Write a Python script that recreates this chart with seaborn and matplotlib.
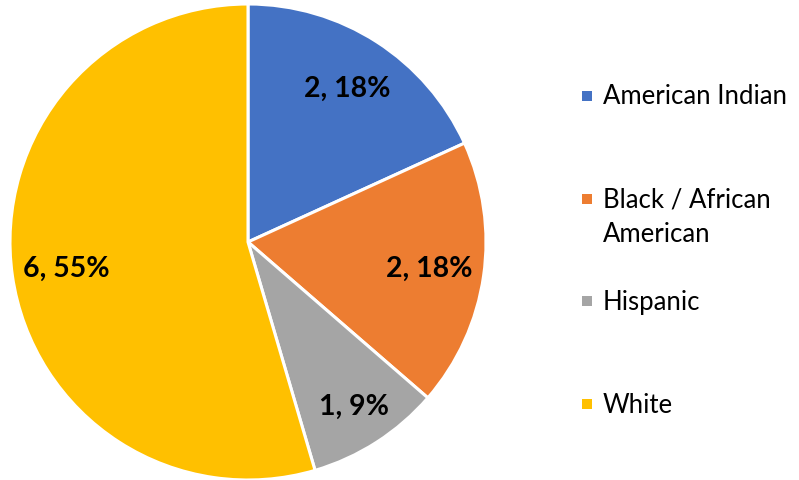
import matplotlib
matplotlib.use("Agg")
import matplotlib.pyplot as plt
from matplotlib.patches import Rectangle
import numpy as np
import seaborn as sns

# Data
categories = ["American Indian", "Black / African\nAmerican", "Hispanic", "White"]
counts = [2, 2, 1, 6]
colors = ["#4472C4", "#ED7D31", "#A5A5A5", "#FFC000"]

sns.set_theme(style="white")
plt.rcParams["font.family"] = ["Lato", "DejaVu Sans"]

W, H = 799, 481
fig = plt.figure(figsize=(W / 100, H / 100), dpi=100)
fig.patch.set_facecolor("white")

# Pie axes: centre at (248, 243) px from top-left, radius 238 px
cx, cy, r = 248, 243, 238
ax = fig.add_axes([(cx - r) / W, (H - cy - r) / H, 2 * r / W, 2 * r / H])

total = sum(counts)


def fmt(pct):
    n = int(round(pct * total / 100.0))
    return f"{n}, {pct:.0f}%"


wedges, texts, autotexts = ax.pie(
    counts,
    colors=colors,
    startangle=90,
    counterclock=False,
    autopct=fmt,
    pctdistance=0.77,
    wedgeprops=dict(edgecolor="white", linewidth=2.2),
    textprops=dict(fontsize=20.5, fontweight="bold", color="black"),
    radius=1.0,
)
ax.set_xlim(-1, 1)
ax.set_ylim(-1, 1)
ax.set_aspect("auto")
ax.axis("off")

# Small slice label sits a bit further out
w = wedges[2]
mid = np.deg2rad((w.theta1 + w.theta2) / 2)
autotexts[2].set_position((0.82 * np.cos(mid), 0.82 * np.sin(mid)))

# Legend: square markers with labels, entries spaced evenly
x_mark, x_text = 582, 603
y0, dy = 97, 102.7
sq = 10
for i, (lab, col) in enumerate(zip(categories, colors)):
    y = y0 + i * dy
    fig.patches.append(Rectangle((x_mark / W, (H - y - sq / 2) / H), sq / W, sq / H,
                                 transform=fig.transFigure, facecolor=col,
                                 edgecolor="none"))
    if "\n" in lab:
        # first line centred on the marker, second line below
        fig.text(x_text / W, (H - y + 12) / H, lab, fontsize=18.5, color="black",
                 ha="left", va="top", linespacing=1.45)
    else:
        fig.text(x_text / W, (H - y) / H, lab, fontsize=18.5, color="black",
                 ha="left", va="center")

fig.savefig("out.png", dpi=100, facecolor="white")
